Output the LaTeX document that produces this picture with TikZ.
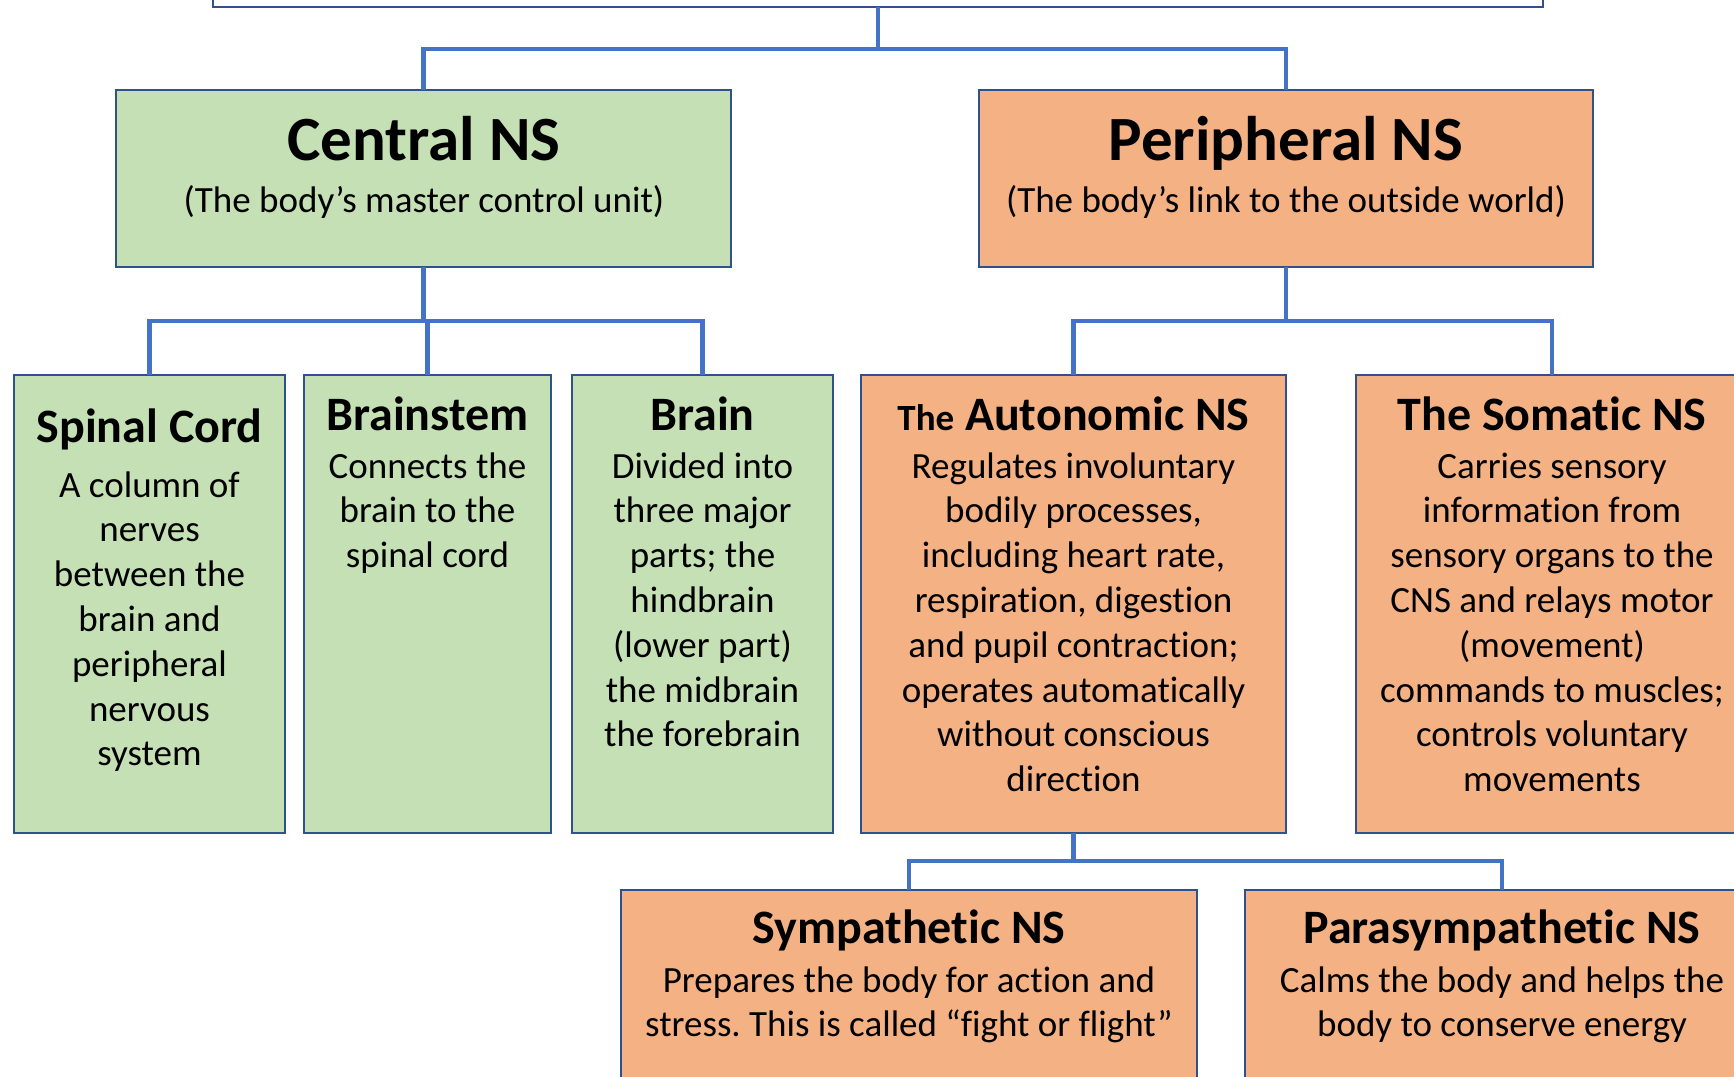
\documentclass[tikz,border=0pt]{standalone}
\usepackage{fontspec}
\setmainfont[Ligatures=NoCommon]{Carlito}
\frenchspacing
\definecolor{cnsgreen}{HTML}{C5E0B4}
\definecolor{pnsorange}{HTML}{F4B183}
\definecolor{edgeblue}{HTML}{2F528F}
\definecolor{linkblue}{HTML}{4472C4}
% centred lines whose first baseline is the box baseline
\newcommand{\stk}[1]{\begin{tabular}[t]{@{}c@{}}#1\end{tabular}}
\renewcommand{\arraystretch}{1}
\begin{document}
\begin{tikzpicture}[x=1pt,y=-1pt,
  box/.style={draw=edgeblue, line width=2.4pt, inner sep=0pt, outer sep=0pt, anchor=north west},
  greenbox/.style={box, fill=cnsgreen},
  orangebox/.style={box, fill=pnsorange},
  conn/.style={draw=linkblue, line width=4.5pt},
  bigtitle/.style={anchor=base, inner sep=0pt, font=\fontsize{63}{75}\selectfont\bfseries},
  subtitle/.style={anchor=base, inner sep=0pt, font=\fontsize{37}{45}\selectfont},
  head/.style={anchor=base, inner sep=0pt, font=\fontsize{48}{56}\selectfont\bfseries},
  body/.style={anchor=base, inner sep=0pt, font=\fontsize{37}{44.8}\selectfont}
]
\useasboundingbox (0,0) rectangle (1734,1076);
\clip (0,0) rectangle (1734,1076);
\fill[white] (0,0) rectangle (1734,1076);

% boxes
\node[box, fill=white, minimum width=1330pt, minimum height=60pt] (top) at (213,-53) {};
\node[greenbox, minimum width=615pt, minimum height=177pt] (cns) at (116,90) {};
\node[orangebox, minimum width=614pt, minimum height=177pt] (pns) at (979,90) {};
\node[greenbox, minimum width=271pt, minimum height=458pt] (spinal) at (14,375) {};
\node[greenbox, minimum width=247pt, minimum height=458pt] (stem) at (304,375) {};
\node[greenbox, minimum width=261pt, minimum height=458pt] (brain) at (572,375) {};
\node[orangebox, minimum width=425pt, minimum height=458pt] (auto) at (861,375) {};
\node[orangebox, minimum width=392pt, minimum height=458pt] (soma) at (1356,375) {};
\node[orangebox, minimum width=576pt, minimum height=250pt] (symp) at (621,890) {};
\node[orangebox, minimum width=514pt, minimum height=250pt] (para) at (1245,890) {};

% connectors
\draw[conn] (top.south) -- ++(0,42) -| (cns.north);
\draw[conn] (top.south) -- ++(0,42) -| (pns.north);
\draw[conn] (cns.south) -- ++(0,54) -| (spinal.north);
\draw[conn] (cns.south) -- ++(0,54) -| (stem.north);
\draw[conn] (cns.south) -- ++(0,54) -| (brain.north);
\draw[conn] (pns.south) -- ++(0,54) -| (auto.north);
\draw[conn] (pns.south) -- ++(0,54) -| (soma.north);
\draw[conn] (auto.south) -- ++(0,28) -| (symp.north);
\draw[conn] (auto.south) -- ++(0,28) -| (para.north);

% texts
\node[bigtitle] (cnst) at (424,160) {Central NS};
\node[subtitle] (cnss) at (424,212) {(The body’s master control unit)};
\node[bigtitle] (pnst) at (1286,160) {Peripheral NS};
\node[subtitle] (pnss) at (1286,212) {(The body’s link to the outside world)};

\node[head] (spinalt) at (149.5,442) {Spinal Cord};
\node[body] (spinalb) at (149.5,497) {\stk{A column of\\nerves\\between the\\brain and\\peripheral\\nervous\\system}};

\node[head] (stemt) at (427.5,430) {Brainstem};
\node[body] (stemb) at (427.5,478) {\stk{Connects the\\brain to the\\spinal cord}};

\node[head] (braint) at (702.5,430) {Brain};
\node[body] (brainb) at (702.5,478) {\stk{Divided into\\three major\\parts; the\\hindbrain\\(lower part)\\the midbrain\\the forebrain}};

\node[head] (autot) at (1073.5,430) {{\fontsize{37}{45}\selectfont The} Autonomic NS};
\node[body] (autob) at (1073.5,478) {\stk{Regulates involuntary\\bodily processes,\\including heart rate,\\respiration, digestion\\and pupil contraction;\\operates automatically\\without conscious\\direction}};

\node[head] (somat) at (1552,430) {The Somatic NS};
\node[body] (somab) at (1552,478) {\stk{Carries sensory\\information from\\sensory organs to the\\CNS and relays motor\\(movement)\\commands to muscles;\\controls voluntary\\movements}};

\node[head] (sympt) at (909,943) {Sympathetic NS};
\node[body] (sympb) at (909,992) {\stk{Prepares the body for action and\\stress. This is called “fight or flight”}};

\node[head] (parat) at (1502,943) {Parasympathetic NS};
\node[body] (parab) at (1502,992) {\stk{Calms the body and helps the\\body to conserve energy}};
\end{tikzpicture}
\end{document}
